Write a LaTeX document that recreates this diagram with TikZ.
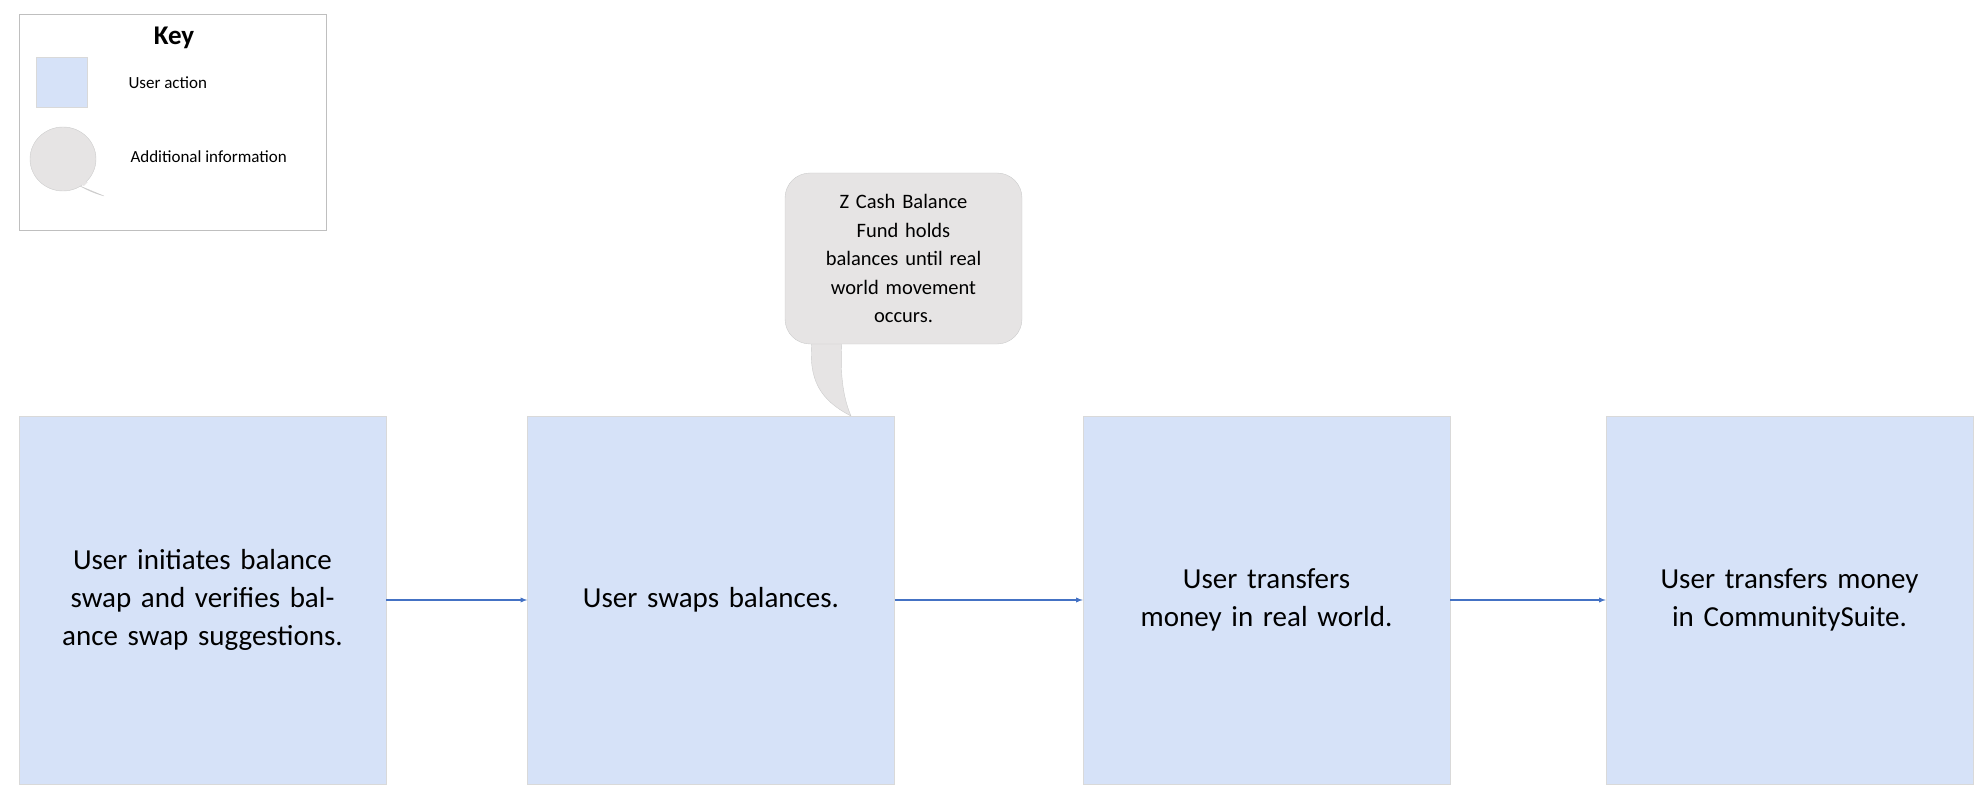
\documentclass[tikz,border=0pt]{standalone}
\usepackage{fontspec}
\setmainfont{Carlito}
\begin{document}
\begin{tikzpicture}[x=1pt,y=-1pt,
 act/.style={draw=black!15,fill={rgb,255:red,214;green,226;blue,248},minimum width=367pt,minimum height=368pt,text width=360pt,align=center,font=\fontsize{29}{38}\selectfont,inner sep=0pt},
 bub/.style={draw=black!20,fill={rgb,255:red,230;green,228;blue,228}},
 arr/.style={draw={rgb,255:red,68;green,114;blue,196},line width=1.3pt,-latex}]
\useasboundingbox (0,0) rectangle (1983,794);
% key
\node[draw=black!25,minimum width=307pt,minimum height=216pt,anchor=north west,inner sep=0pt] (key) at (19,14) {};
\node[font=\bfseries\fontsize{27}{30}\selectfont] (keyt) at (174,38) {Key};
\node[draw=black!15,fill={rgb,255:red,214;green,226;blue,248},minimum width=51pt,minimum height=50pt,inner sep=0pt] (ksq) at (62,82) {};
\node[anchor=west,font=\fontsize{17}{20}\selectfont] (kl1) at (125,83) {User action};
\path[bub] (80,186) -- (104,196) .. controls (90,192) and (84,188) .. (80,186) -- cycle;
\path[bub] (63,159) circle[x radius=33,y radius=32];
\path[fill={rgb,255:red,230;green,228;blue,228}] (72,180) -- (88,182) -- (84,186) -- cycle;
\node[anchor=west,font=\fontsize{17}{20}\selectfont] (kl2) at (127,157) {Additional information};
% callout
\path[bub] (812,340) .. controls (808,380) and (820,400) .. (851,416) .. controls (842,395) and (840,370) .. (842,340) -- cycle;
\node[bub,rounded corners=25pt,minimum width=237pt,minimum height=171pt,text width=200pt,align=center,font=\fontsize{20.5}{28.5}\selectfont,inner sep=0pt] (call) at (903.5,258.5) {Z Cash Balance\\Fund holds\\balances until real\\world movement\\occurs.};
% boxes
\node[act] (b1) at (202.5,600) {User initiates balance swap and verifies balance swap suggestions.};
\node[act] (b2) at (711,600) {User swaps balances.};
\node[act] (b3) at (1266.5,600) {User transfers money in real world.};
\node[act] (b4) at (1789.5,600) {User transfers money in CommunitySuite.};
\draw[arr] (b1) -- (b2);
\draw[arr] (b2) -- (b3);
\draw[arr] (b3) -- (b4);
\end{tikzpicture}
\end{document}
